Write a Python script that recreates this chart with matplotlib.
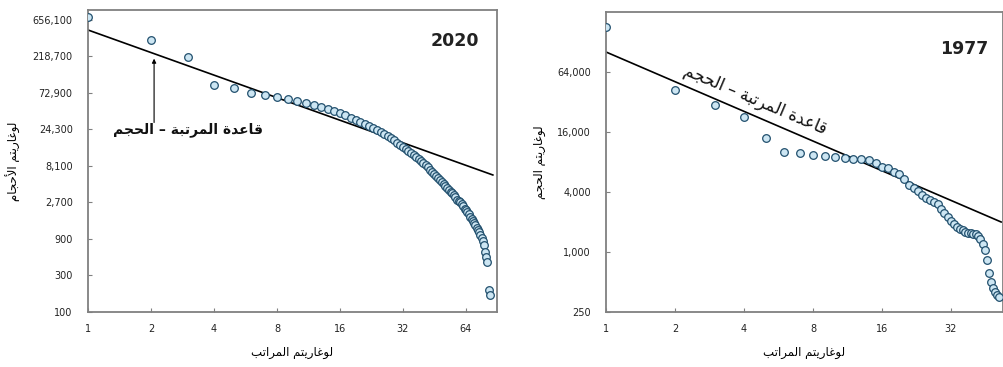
import numpy as np
import matplotlib
matplotlib.use('Agg')
import matplotlib.pyplot as plt
from matplotlib.ticker import FixedLocator, FixedFormatter, NullLocator

# %% data
# 2020 panel: city sizes by rank
sizes_2020 = [718000, 359000, 215000, 92600, 84700, 72900, 68600, 64600, 60500, 57300,
              54000, 50800, 47800, 45000, 42500, 39900, 37500, 34500, 32400, 30400,
              28700, 27100, 25500, 23900, 22500, 21200, 20000, 18800, 17500, 16400,
              15300, 14300, 13500, 12900, 12000, 11300, 10600, 10000, 9400, 8870,
              8300, 7800, 7200, 6800, 6400, 6000, 5650, 5310, 5000, 4700,
              4450, 4200, 3950, 3750, 3580, 3380, 3150, 2950, 2850, 2700,
              2550, 2400, 2250, 2150, 2020, 1900, 1740, 1630, 1550, 1450,
              1380, 1250, 1180, 1110, 1020, 930, 860, 750, 610, 530,
              450, 194, 167]
# rank-size line, two end points
line_2020_x = [1, 86]
line_2020_y = [486000, 6180]
yticks_2020 = [100, 300, 900, 2700, 8100, 24300, 72900, 218700, 656100]
xticks_2020 = [1, 2, 4, 8, 16, 32, 64]

# 1977 panel
sizes_1977 = [181000, 42200, 29900, 22600, 13900, 10100, 9800, 9400, 9200, 9000,
              8800, 8600, 8500, 8400, 7800, 7200, 6900, 6400, 6000, 5400,
              4700, 4400, 4100, 3700, 3500, 3300, 3150, 3050, 2700, 2450,
              2250, 2050, 1900, 1780, 1700, 1650, 1600, 1560, 1540, 1520,
              1500, 1450, 1350, 1200, 1050, 830, 620, 500, 440, 400,
              370, 350]
line_1977_x = [1, 53]
line_1977_y = [101600, 2000]
yticks_1977 = [250, 1000, 4000, 16000, 64000]
xticks_1977 = [1, 2, 4, 8, 16, 32]

# %% arabic text: matplotlib has no shaping, so pick presentation forms by hand
FORMS = {  # isolated, final, initial, medial
    'ا': (0xFE8D, 0xFE8E, None, None),
    'أ': (0xFE83, 0xFE84, None, None),
    'ب': (0xFE8F, 0xFE90, 0xFE91, 0xFE92),
    'ة': (0xFE93, 0xFE94, None, None),
    'ت': (0xFE95, 0xFE96, 0xFE97, 0xFE98),
    'ج': (0xFE9D, 0xFE9E, 0xFE9F, 0xFEA0),
    'ح': (0xFEA1, 0xFEA2, 0xFEA3, 0xFEA4),
    'د': (0xFEA9, 0xFEAA, None, None),
    'ر': (0xFEAD, 0xFEAE, None, None),
    'ع': (0xFEC9, 0xFECA, 0xFECB, 0xFECC),
    'غ': (0xFECD, 0xFECE, 0xFECF, 0xFED0),
    'ق': (0xFED5, 0xFED6, 0xFED7, 0xFED8),
    'ل': (0xFEDD, 0xFEDE, 0xFEDF, 0xFEE0),
    'م': (0xFEE1, 0xFEE2, 0xFEE3, 0xFEE4),
    'و': (0xFEED, 0xFEEE, None, None),
    'ي': (0xFEF1, 0xFEF2, 0xFEF3, 0xFEF4),
}
LAM_ALEF = {'ا': (0xFEFB, 0xFEFC), 'أ': (0xFEF7, 0xFEF8)}


def shape(s):
    out = []
    prev = False
    i = 0
    while i < len(s):
        c = s[i]
        if c not in FORMS:
            out.append(c); prev = False; i += 1
            continue
        if c == 'ل' and i + 1 < len(s) and s[i + 1] in LAM_ALEF:
            iso, fin = LAM_ALEF[s[i + 1]]
            out.append(chr(fin if prev else iso)); prev = False; i += 2
            continue
        iso, fin, ini, med = FORMS[c]
        left = ini is not None and i + 1 < len(s) and s[i + 1] in FORMS
        if prev and left: g = med
        elif prev: g = fin
        elif left: g = ini
        else: g = iso
        out.append(chr(g))
        prev = left
        i += 1
    return ''.join(reversed(out))


xlab = shape('لوغاريتم المراتب')
ylab_2020 = shape('لوغاريتم الأحجام')
ylab_1977 = shape('لوغاريتم الحجم')
rule = shape('قاعدة المرتبة – الحجم')

# %%
plt.rcParams['font.family'] = ['DejaVu Sans']
edge = '#808080'
mface = '#cde6f3'
medge = '#22506e'

fig = plt.figure(figsize=(10.04, 3.67), dpi=100)
ax1 = fig.add_axes([0.0876, 0.1499, 0.4074, 0.8229])
ax2 = fig.add_axes([0.6036, 0.1499, 0.3954, 0.8174])


def style(ax, xt, yt, xlim, ylim):
    ax.set_xscale('log')
    ax.set_yscale('log')
    ax.set_xlim(*xlim)
    ax.set_ylim(*ylim)
    ax.xaxis.set_major_locator(FixedLocator(xt))
    ax.xaxis.set_major_formatter(FixedFormatter([str(v) for v in xt]))
    ax.yaxis.set_major_locator(FixedLocator(yt))
    ax.yaxis.set_major_formatter(FixedFormatter(['{:,}'.format(v) for v in yt]))
    ax.xaxis.set_minor_locator(NullLocator())
    ax.yaxis.set_minor_locator(NullLocator())
    for s in ax.spines.values():
        s.set_color(edge); s.set_linewidth(1.3)
    ax.tick_params(direction='in', length=3, width=0.8, color=edge,
                   labelsize=7, labelcolor='#222222')
    ax.tick_params(axis='y', pad=11)
    ax.tick_params(axis='x', pad=9)


# 2020
r20 = np.arange(1, len(sizes_2020) + 1)
ax1.plot(line_2020_x, line_2020_y, color='black', lw=1.2, zorder=2)
ax1.plot(r20, sizes_2020, 'o', ms=5.5, mfc=mface, mec=medge, mew=0.9, zorder=3)
style(ax1, xticks_2020, yticks_2020, (1, 90), (100, 887000))
ax1.text(0.897, 0.897, '2020', transform=ax1.transAxes, fontsize=12.5,
         fontweight='bold', ha='center', va='center', color='#222222')
ax1.annotate('', xy=(2.07, 205000), xytext=(2.07, 30000),
             arrowprops=dict(arrowstyle='-|>', color='black', lw=0.8,
                             mutation_scale=6, shrinkA=0, shrinkB=0))
ax1.text(3.0, 24000, rule, ha='center', va='center', fontsize=10,
         fontweight='bold', color='#111111')
ax1.set_xlabel(xlab, fontsize=8.5, labelpad=8)
ax1.set_ylabel(ylab_2020, fontsize=8.5, labelpad=8)

# 1977
r77 = np.arange(1, len(sizes_1977) + 1)
ax2.plot(line_1977_x, line_1977_y, color='black', lw=1.2, zorder=2)
ax2.plot(r77, sizes_1977, 'o', ms=5.5, mfc=mface, mec=medge, mew=0.9, zorder=3)
style(ax2, xticks_1977, yticks_1977, (1, 54), (250, 256000))
ax2.text(0.902, 0.876, '1977', transform=ax2.transAxes, fontsize=12.5,
         fontweight='bold', ha='center', va='center', color='#222222')
ax2.text(4.5, 33500, rule, fontsize=12, rotation=-23, rotation_mode='anchor',
         ha='center', va='center', color='#111111')
ax2.set_xlabel(xlab, fontsize=8.5, labelpad=8)
ax2.set_ylabel(ylab_1977, fontsize=8.5, labelpad=8)

fig.savefig('out.png', dpi=100)
